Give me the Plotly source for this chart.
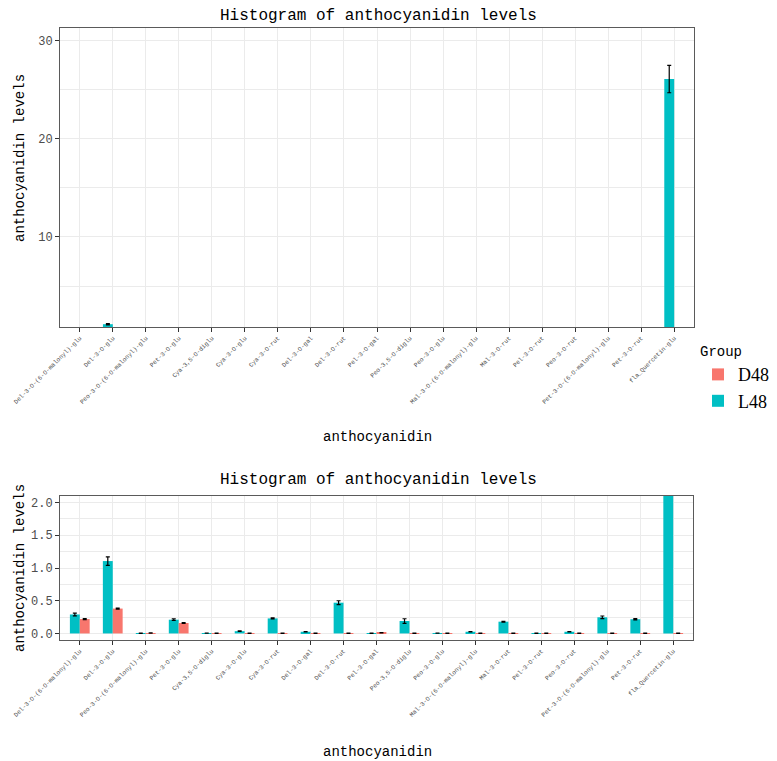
import plotly.graph_objects as go

categories = ["Del-3-O-(6-O-malonyl)-glu", "Del-3-O-glu", "Peo-3-O-(6-O-malonyl)-glu", "Pet-3-O-glu",
              "Cya-3,5-O-diglu", "Cya-3-O-glu", "Cya-3-O-rut", "Del-3-O-gal", "Del-3-O-rut", "Pel-3-O-gal",
              "Peo-3,5-O-diglu", "Peo-3-O-glu", "Mal-3-O-(6-O-malonyl)-glu", "Mal-3-O-rut", "Pel-3-O-rut",
              "Peo-3-O-rut", "Pet-3-O-(6-O-malonyl)-glu", "Pet-3-O-rut", "fla_Quercetin-glu"]
L48 = [0.29, 1.106, 0.004, 0.21, 0.005, 0.035, 0.23, 0.026, 0.47, 0.003,
       0.19, 0.005, 0.026, 0.18, 0.003, 0.026, 0.247, 0.217, 26.1]
L48_err = [0.02, 0.065, 0.002, 0.012, 0.002, 0.005, 0.008, 0.004, 0.03, 0.002,
           0.035, 0.002, 0.004, 0.006, 0.002, 0.004, 0.02, 0.01, 1.4]
D48 = [0.22, 0.38, 0.006, 0.16, 0.003, 0.003, 0.003, 0.003, 0.003, 0.01,
       0.003, 0.003, 0.003, 0.003, 0.003, 0.003, 0.003, 0.003, 0.003]
D48_err = [0.008, 0.008, 0.002, 0.006, 0.002, 0.002, 0.002, 0.002, 0.002, 0.003,
           0.002, 0.002, 0.002, 0.002, 0.002, 0.002, 0.002, 0.002, 0.002]

TEAL = "#00BFC4"
SALMON = "#F8766D"
FONT = "Liberation Mono"
OFF = 8  # page body margin
W, H = 777 - OFF, 761 - OFF

def px(x):
    return (x - OFF) / W

def py(y):
    return 1 - (y - OFF) / H

fig = go.Figure()
for xa, ya, show in [("x", "y", True), ("x2", "y2", False)]:
    fig.add_trace(go.Bar(x=categories, y=L48, name="L48", marker_color=TEAL, marker_line_width=0,
                         error_y=dict(type="data", array=L48_err, color="black", thickness=1.2, width=2),
                         xaxis=xa, yaxis=ya, showlegend=show, legendrank=2, offsetgroup="L"))
    fig.add_trace(go.Bar(x=categories, y=D48, name="D48", marker_color=SALMON, marker_line_width=0,
                         error_y=dict(type="data", array=D48_err, color="black", thickness=1.2, width=2),
                         xaxis=xa, yaxis=ya, showlegend=show, legendrank=1, offsetgroup="D"))

grid = "#EBEBEB"
border = "#5A5A5A"
xrange = [-0.6, len(categories) - 1 + 0.6]
common_x = dict(type="category", tickangle=-45, showgrid=True, gridcolor=grid, gridwidth=1,
                ticks="outside", ticklen=4, tickcolor="#333333", showline=True, mirror=True,
                linecolor=border, linewidth=1, automargin=False, range=xrange,
                tickfont=dict(family=FONT, size=6.2, color="#4D4D4D"), zeroline=False)
common_y = dict(showgrid=True, gridcolor=grid, gridwidth=1, ticks="outside", ticklen=4,
                tickcolor="#333333", showline=True, mirror=True, linecolor=border, linewidth=1,
                automargin=False,
                tickfont=dict(family=FONT, size=12, color="#4D4D4D"), zeroline=False)

ann = dict(xref="paper", yref="paper", showarrow=False, xanchor="center", yanchor="middle")

fig.update_layout(
    width=W, height=H, margin=dict(l=0, r=0, t=0, b=0, autoexpand=False),
    plot_bgcolor="white", paper_bgcolor="white",
    barmode="group", bargap=0.4, bargroupgap=0,
    xaxis=dict(domain=[px(60), px(694)], anchor="y", **common_x),
    yaxis=dict(domain=[py(327), py(28)], anchor="x", range=[0.82, 31.3], tickvals=[10, 20, 30],
               minor=dict(dtick=5, tick0=0, showgrid=True, gridcolor=grid, gridwidth=0.6), **common_y),
    xaxis2=dict(domain=[px(60), px(693)], anchor="y2", **common_x),
    yaxis2=dict(domain=[py(640), py(496)], anchor="x2", range=[-0.1, 2.1],
                tickvals=[0, 0.5, 1.0, 1.5, 2.0], ticktext=["0.0", "0.5", "1.0", "1.5", "2.0"],
                minor=dict(dtick=0.25, tick0=0, showgrid=True, gridcolor=grid, gridwidth=0.6), **common_y),
    legend=dict(x=px(698), y=py(338), xanchor="left", yanchor="top",
                title=dict(text="Group", font=dict(family=FONT, size=14, color="black")),
                font=dict(family="Liberation Serif", size=18, color="black"),
                traceorder="normal", itemsizing="constant", itemwidth=30, tracegroupgap=2),
    annotations=[
        dict(text="Histogram of anthocyanidin levels", x=px(378), y=py(16),
             font=dict(family=FONT, size=16, color="black"), **ann),
        dict(text="Histogram of anthocyanidin levels", x=px(378), y=py(480),
             font=dict(family=FONT, size=16, color="black"), **ann),
        dict(text="anthocyanidin", x=px(377), y=py(437),
             font=dict(family=FONT, size=14, color="black"), **ann),
        dict(text="anthocyanidin", x=px(377), y=py(752),
             font=dict(family=FONT, size=14, color="black"), **ann),
        dict(text="anthocyanidin levels", x=px(20), y=py(158), textangle=-90,
             font=dict(family=FONT, size=14, color="black"), **ann),
        dict(text="anthocyanidin levels", x=px(20), y=py(568), textangle=-90,
             font=dict(family=FONT, size=14, color="black"), **ann),
    ],
)

fig.write_html("out.html")
